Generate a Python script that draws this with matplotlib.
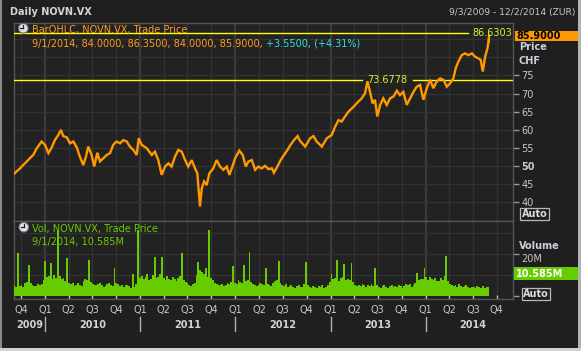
import matplotlib
matplotlib.use("Agg")
import matplotlib.pyplot as plt
import matplotlib.transforms as mtransforms
from matplotlib.patches import Rectangle, Circle
from matplotlib.lines import Line2D
import pandas as pd

# ---------------- data ----------------
price_dates = [
    "2009-09-03", "2009-09-26", "2009-10-15", "2009-11-03", "2009-11-16", "2009-11-29",
    "2009-12-18", "2009-12-31", "2010-01-13", "2010-01-26", "2010-02-07", "2010-02-20",
    "2010-03-02", "2010-03-11", "2010-03-24", "2010-04-06", "2010-04-19", "2010-05-02",
    "2010-05-14", "2010-05-27", "2010-06-06", "2010-06-15", "2010-06-28", "2010-07-08",
    "2010-07-20", "2010-07-30", "2010-08-12", "2010-08-25", "2010-09-07", "2010-09-19",
    "2010-10-02", "2010-10-15", "2010-10-28", "2010-11-10", "2010-11-22", "2010-12-05",
    "2010-12-18", "2010-12-26", "2011-01-06", "2011-01-25", "2011-02-14", "2011-02-26",
    "2011-03-11", "2011-03-24", "2011-04-06", "2011-04-19", "2011-05-01", "2011-05-14",
    "2011-05-27", "2011-06-09", "2011-06-22", "2011-07-04", "2011-07-17", "2011-07-30",
    "2011-08-08", "2011-08-14", "2011-08-18", "2011-08-25", "2011-09-03", "2011-09-13",
    "2011-09-23", "2011-10-08", "2011-10-21", "2011-11-03", "2011-11-16", "2011-11-29",
    "2011-12-09", "2011-12-18", "2011-12-31", "2012-01-16", "2012-01-29", "2012-02-10",
    "2012-02-20", "2012-03-04", "2012-03-17", "2012-03-29", "2012-04-11", "2012-04-24",
    "2012-05-07", "2012-05-20", "2012-05-28", "2012-06-10", "2012-06-23", "2012-07-06",
    "2012-07-19", "2012-07-31", "2012-08-13", "2012-08-27", "2012-09-05", "2012-09-25",
    "2012-10-14", "2012-10-27", "2012-11-08", "2012-11-28", "2012-12-17", "2013-01-05",
    "2013-01-18", "2013-01-31", "2013-02-12", "2013-02-25", "2013-03-10", "2013-03-23",
    "2013-04-05", "2013-04-17", "2013-04-30", "2013-05-13", "2013-05-22", "2013-06-01",
    "2013-06-11", "2013-06-20", "2013-06-29", "2013-07-10", "2013-07-22", "2013-08-04",
    "2013-08-17", "2013-08-30", "2013-09-12", "2013-09-24", "2013-10-07", "2013-10-20",
    "2013-11-02", "2013-11-15", "2013-11-27", "2013-12-10", "2013-12-23", "2014-01-05",
    "2014-01-18", "2014-01-30", "2014-02-12", "2014-02-25", "2014-03-10", "2014-03-23",
    "2014-04-04", "2014-04-17", "2014-04-26", "2014-05-06", "2014-05-19", "2014-06-01",
    "2014-06-14", "2014-06-27", "2014-07-09", "2014-07-22", "2014-07-31", "2014-08-08",
    "2014-08-17", "2014-08-26", "2014-08-29",
]
price_close = [
    47.9, 49.4, 50.8, 52.2, 53.1, 54.9,
    56.8, 55.9, 53.6, 55.2, 57.2, 58.6,
    60.0, 58.3, 58.0, 56.3, 56.8, 55.2,
    52.6, 50.3, 52.6, 55.4, 53.1, 49.9,
    53.7, 51.3, 52.2, 53.1, 53.6, 55.9,
    56.8, 56.3, 57.2, 56.8, 55.4, 54.5,
    53.1, 57.7, 55.9, 55.0, 53.1, 54.0,
    51.7, 47.6, 49.9, 50.8, 49.9, 52.6,
    54.5, 54.0, 51.7, 49.9, 51.7, 49.4,
    48.0, 42.5, 38.9, 43.9, 45.8, 44.8,
    48.0, 49.4, 51.7, 49.9, 49.0, 49.9,
    47.6, 49.4, 52.2, 54.3, 53.1, 49.9,
    51.3, 51.7, 49.0, 49.9, 49.4, 50.1,
    49.2, 49.4, 48.2, 49.9, 51.7, 53.1,
    54.5, 55.9, 57.2, 58.3, 57.0, 55.4,
    57.7, 58.3, 56.8, 55.4, 57.7, 58.6,
    60.9, 62.7, 62.3, 63.7, 65.0, 65.9,
    66.9, 67.8, 68.7, 70.1, 73.4, 70.5,
    67.3, 68.3, 63.7, 66.9, 68.7, 66.9,
    68.7, 69.2, 70.8, 69.6, 70.5, 66.9,
    68.7, 70.5, 71.9, 72.4, 68.3, 71.5,
    73.8, 71.5, 73.3, 74.2, 73.8, 71.9,
    72.8, 74.2, 77.0, 78.8, 80.6, 81.1,
    80.6, 81.1, 80.2, 79.7, 79.3, 76.1,
    80.2, 82.5, 84.0,
]

last_bar_date = "2014-09-01"
last_open, last_high, last_low, last_close = 84.0000, 86.3500, 84.0000, 85.9000
change_abs, change_pct = 3.5500, 4.31
period_high = 86.6303
marked_high = 73.6778

# weekly volume (millions), weeks starting 2009-09-04
vol_week_start = "2009-09-04"
vol_values = [
    5.2, 4.1, 20.3, 4.6, 5.0, 4.3, 6.2, 6.8, 14.6, 5.9,
    5.1, 4.5, 4.8, 5.6, 4.9, 5.8, 7.4, 16.7, 8.9, 9.6,
    15.9, 8.2, 10.1, 8.7, 30.8, 9.3, 7.8, 8.4, 7.1, 17.9,
    6.2, 5.4, 5.9, 4.8, 5.1, 6.0, 5.3, 4.6, 7.2, 7.9,
    7.5, 17.1, 6.8, 5.7, 5.2, 4.9, 5.5, 6.3, 5.0, 4.4,
    4.8, 5.6, 6.1, 5.2, 4.7, 13.3, 5.9, 5.4, 4.6, 5.1,
    4.2, 4.9, 5.3, 4.5, 3.9, 10.2, 4.4, 5.8, 31.6, 8.6,
    9.4, 7.8, 8.8, 10.3, 7.6, 8.1, 9.7, 18.7, 8.3, 9.0,
    10.6, 18.7, 8.4, 7.7, 9.2, 8.0, 7.3, 8.9, 7.8, 7.0,
    8.5, 9.6, 20.3, 7.4, 6.8, 5.9, 5.2, 4.8, 5.5, 6.1,
    9.8, 16.3, 12.4, 11.2, 10.5, 13.3, 9.1, 31.7, 8.7, 7.4,
    6.3, 5.8, 5.1, 4.9, 5.6, 4.7, 5.3, 6.0, 5.5, 6.8,
    14.1, 6.2, 5.4, 7.3, 6.6, 5.9, 14.6, 6.9, 7.6, 21.1,
    6.4, 5.7, 5.1, 4.6, 5.3, 6.2, 5.8, 4.9, 13.3, 5.6,
    5.0, 4.5, 6.1, 6.9, 7.4, 16.7, 6.0, 5.2, 4.7, 5.4,
    4.3, 4.8, 5.1, 4.2, 3.9, 4.6, 5.0, 4.1, 4.4, 5.6,
    16.0, 4.9, 4.3, 3.8, 4.5, 4.0, 3.7, 4.6, 4.2, 4.9,
    3.9, 4.4, 5.2, 6.8, 10.2, 7.9, 8.6, 17.3, 7.2, 8.3,
    9.1, 15.2, 7.7, 8.0, 7.4, 15.9, 6.6, 5.3, 4.8, 5.1,
    4.5, 5.7, 4.9, 4.2, 5.0, 4.6, 5.4, 4.8, 13.2, 5.2,
    4.4, 3.9, 4.7, 5.1, 4.3, 3.8, 4.6, 5.0, 4.2, 4.8,
    4.1, 5.3, 4.5, 3.9, 4.7, 5.5, 4.9, 5.8, 4.4, 5.0,
    6.1, 10.7, 7.4, 8.2, 7.9, 13.2, 8.8, 7.5, 9.0, 8.1,
    7.7, 8.6, 7.2, 6.9, 8.3, 7.6, 9.5, 19.2, 7.0, 5.8,
    5.1, 4.6, 4.9, 4.2, 5.4, 4.7, 4.0, 4.5, 5.0, 4.3,
    3.8, 4.4, 4.1, 3.6, 4.8, 4.2, 3.9, 4.5, 3.7, 4.0,
    4.0,
]
last_volume = 10.585

view_start, view_end = "2009-09-03", "2014-12-02"
price_ticks = [40, 45, 50, 55, 60, 65, 70, 75]
price_grid = [40, 45, 50, 55, 60, 65, 70, 75, 80, 85]
vol_ticks = [0, 20]
vol_tick_labels = ["", "20M"]
vol_grid = [10, 20, 30]
year_labels = ["2009", "2010", "2011", "2012", "2013", "2014"]

# ---------------- styling ----------------
W, H = 581, 351
BG = "#1f1f1f"
PANEL = "#222222"
GRID = "#323232"
GRID_Y = "#3b3b3b"
SPINE = "#555555"
TXT = "#c8c8c8"
AXLBL = "#c8d0da"
ORANGE = "#ff9900"
ORANGE_T = "#ff9d1e"
CYAN = "#33e0e0"
YEL = "#ffff00"
YEL_T = "#d8f030"
GREEN = "#66cc00"
FS = 7

plt.rcParams["font.family"] = ["DejaVu Sans"]

fig = plt.figure(figsize=(W / 100, H / 100), dpi=100)
fig.patch.set_facecolor(BG)
T = mtransforms.Affine2D().scale(1, -1).translate(0, H)  # pixel coords, y from top


def fa(x0, y0, x1, y1):
    return [x0 / W, 1 - y1 / H, (x1 - x0) / W, (y1 - y0) / H]


ax_p = fig.add_axes(fa(14, 22.7, 513, 221))
ax_v = fig.add_axes(fa(14, 221, 513, 299.3), sharex=ax_p)

for ax in (ax_p, ax_v):
    ax.set_facecolor(PANEL)
    for s in ax.spines.values():
        s.set_color(SPINE)
        s.set_linewidth(1)

xs, xe = pd.Timestamp(view_start), pd.Timestamp(view_end)
ax_p.set_xlim(xs, xe)
ax_p.set_ylim(34.9, 89.55)
ax_v.set_ylim(-1.73, 35.8)

quarters = pd.date_range("2009-10-01", "2014-10-01", freq="QS")
for ax in (ax_p, ax_v):
    for q in quarters:
        yr = q.month == 1
        ax.axvline(q, color=GRID_Y if yr else GRID, lw=1.6 if yr else 0.9, zorder=0)
for v in price_grid:
    ax_p.axhline(v, color=GRID, lw=0.9, zorder=0)
for v in vol_grid:
    ax_v.axhline(v, color=GRID, lw=0.9, zorder=0)

# ---------------- price ----------------
pdates = pd.to_datetime(price_dates)
ld = pd.Timestamp(last_bar_date)
ax_p.plot(list(pdates) + [ld], price_close + [last_close], color=ORANGE, lw=1.7, zorder=4,
          solid_joinstyle="miter")
ax_p.vlines(ld, last_low, last_high, color=ORANGE, lw=1.4, zorder=4)

ax_p.axhline(period_high, xmin=0, xmax=(468 - 14) / 499, color=YEL, lw=1, zorder=3)
ax_p.axhline(marked_high, xmin=0, xmax=(362 - 14) / 499, color=YEL, lw=1, zorder=3)
ax_p.axhline(marked_high, xmin=(412.5 - 14) / 499, xmax=1, color=YEL, lw=1, zorder=3)
bl = mtransforms.blended_transform_factory(ax_p.transAxes, ax_p.transData)
ax_p.text(0.998, period_high, f"{period_high:.4f}", transform=bl, ha="right", va="center",
          color=YEL_T, fontsize=FS, zorder=5)
ax_p.text((387 - 14) / 499, marked_high, f"{marked_high:.4f}", transform=bl, ha="center",
          va="center", color=YEL_T, fontsize=FS, zorder=5)

ax_p.yaxis.tick_right()
ax_p.set_yticks(price_ticks)
ax_p.set_yticklabels([str(t) for t in price_ticks])
ax_p.tick_params(axis="y", direction="out", length=4, width=1, color="#9a9a9a",
                 labelsize=FS, labelcolor=TXT, pad=2)
for lbl in ax_p.get_yticklabels():
    if lbl.get_text() == "50":
        lbl.set_fontweight("bold")
ax_p.tick_params(axis="x", which="both", bottom=False, labelbottom=False)

# ---------------- volume ----------------
vdates = pd.date_range(vol_week_start, periods=len(vol_values), freq="7D")
ax_v.bar(vdates, vol_values, width=7, color=GREEN, linewidth=0, zorder=3)
ax_v.bar([ld], [last_volume], width=3, color=GREEN, linewidth=0, zorder=3)
ax_v.yaxis.tick_right()
ax_v.set_yticks(vol_ticks)
ax_v.set_yticklabels(vol_tick_labels)
ax_v.tick_params(axis="y", direction="out", length=4, width=1, color="#9a9a9a",
                 labelsize=FS, labelcolor=TXT, pad=2)
for lbl in ax_v.get_yticklabels():
    lbl.set_verticalalignment("top")

ax_v.set_xticks(quarters)
ax_v.set_xticklabels([f"Q{q.quarter}" for q in quarters])
ax_v.tick_params(axis="x", direction="in", length=3, width=1, color="#c0c0c0",
                 labelsize=FS, labelcolor=TXT, pad=4)

# year labels and separators
bx = mtransforms.blended_transform_factory(ax_v.transData, ax_v.transAxes)
ax_h = 299.3 - 221
year_starts = pd.date_range("2010-01-01", "2014-01-01", freq="YS")
for i, yl in enumerate(year_labels):
    y = int(yl)
    a = max(pd.Timestamp(f"{y}-01-01"), xs)
    b = pd.Timestamp(f"{y + 1}-01-01")
    mid = a + (b - a) / 2 if y < 2014 else pd.Timestamp(f"{y}-07-01")
    ax_v.text(mid, -(325 - 299.3) / ax_h, yl, transform=bx, ha="center", va="center",
              fontsize=FS, fontweight="bold", color="#d0d4da", clip_on=False)
for ys in year_starts:
    ax_v.add_line(Line2D([ys, ys], [-(317 - 299.3) / ax_h, -(331 - 299.3) / ax_h],
                         transform=bx, color="#b0b0b0", lw=1, clip_on=False))

# ---------------- header / legends ----------------
def ftext(x, y, s, **kw):
    return fig.text(x, y, s, transform=T, **kw)


ftext(10, 12, "Daily NOVN.VX", fontsize=FS, fontweight="bold", color="#d0d4da", va="center")
ftext(575, 12.5, f"{xs.month}/{xs.day}/{xs.year} - {xe.month}/{xe.day}/{xe.year} (ZUR)",
      fontsize=6.6, color=TXT, va="center", ha="right")


def clock(cx, cy, r):
    fig.add_artist(Circle((cx, cy), r, transform=T, fc="#dfe4ea", ec="#6a7280", lw=0.8))
    fig.add_artist(Line2D([cx, cx], [cy, cy - r * 0.7], transform=T, color="#202020", lw=0.9))
    fig.add_artist(Line2D([cx, cx - r * 0.6], [cy, cy], transform=T, color="#202020", lw=0.9))


clock(23.3, 28.3, 4.8)
clock(23.8, 227.2, 4.8)

ds = f"{ld.month}/{ld.day}/{ld.year}"
ftext(31.5, 29.5, "BarOHLC, NOVN.VX, Trade Price", fontsize=FS, color=ORANGE_T, va="center")
t1 = ftext(32, 43.5, f"{ds}, {last_open:.4f}, {last_high:.4f}, {last_low:.4f}, {last_close:.4f},",
           fontsize=FS, color=ORANGE_T, va="center")
renderer = fig.canvas.get_renderer()
bb = t1.get_window_extent(renderer)
ftext(bb.x1 + 3, 43.5, f"+{change_abs:.4f}, (+{change_pct:.2f}%)", fontsize=FS, color=CYAN,
      va="center")

ftext(31.5, 229, "Vol, NOVN.VX, Trade Price", fontsize=FS, color=GREEN, va="center")
ftext(32, 242.5, f"{ds}, {last_volume:.3f}M", fontsize=FS, color=GREEN, va="center")

# ---------------- right-hand panel labels ----------------
yc = H - ax_p.transData.transform((0, last_close))[1]
fig.add_artist(Rectangle((515, yc - 5.4), 63, 10.8, transform=T, fc=ORANGE, ec="none"))
ftext(516.5, yc, f"{last_close:.4f}", fontsize=FS, fontweight="bold", color="#000000",
      va="center")
ftext(519.5, 46.5, "Price", fontsize=FS, fontweight="bold", color=AXLBL, va="center")
ftext(518.5, 61.5, "CHF", fontsize=FS, fontweight="bold", color=AXLBL, va="center")

yv = H - ax_v.transData.transform((0, last_volume))[1]
fig.add_artist(Rectangle((514, yv - 6.7), 64.5, 13.4, transform=T, fc=GREEN, ec="none"))
ftext(516, yv, f"{last_volume:.3f}M", fontsize=FS, fontweight="bold", color="#ffffff",
      va="center")
ftext(518.5, 246, "Volume", fontsize=FS, fontweight="bold", color=AXLBL, va="center")

box = dict(boxstyle="square,pad=0.12", fc=BG, ec="#b8b8b8", lw=0.9)
ftext(534.5, 214, "Auto", fontsize=FS, fontweight="bold", color="#dcdcdc", va="center",
      ha="center", bbox=box)
ftext(536, 294, "Auto", fontsize=FS, fontweight="bold", color="#dcdcdc", va="center",
      ha="center", bbox=box)

# window frame
fig.add_artist(Rectangle((0, 0), 2, H, transform=T, fc="#8a8a8a", ec="none"))
fig.add_artist(Rectangle((577.5, 0), 3.5, H, transform=T, fc="#b4b4b4", ec="none"))
fig.add_artist(Rectangle((0, 347.5), W, 3.5, transform=T, fc="#d0d0d0", ec="none"))

fig.savefig("out.png", dpi=100, facecolor=fig.get_facecolor())
